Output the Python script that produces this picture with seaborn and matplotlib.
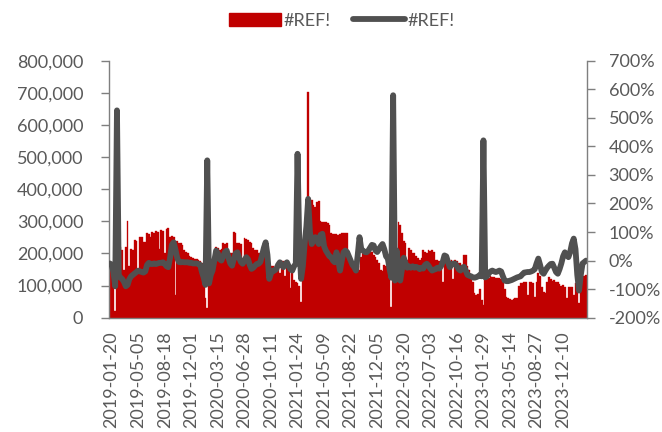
import matplotlib
matplotlib.use("Agg")
import matplotlib.pyplot as plt
import seaborn as sns
import numpy as np
from matplotlib.ticker import FuncFormatter, FixedLocator
from matplotlib.patches import Patch
from matplotlib.lines import Line2D

# ---------------- data (weekly, starting 2019-01-13) ----------------
bar_values_k = [
    171, 170, 172, 20, 200, 215, 220, 211, 150, 220,
    300, 160, 215, 211, 242, 240, 150, 252, 250, 237,
    235, 263, 260, 252, 268, 265, 270, 268, 215, 272,
    270, 200, 275, 279, 252, 255, 250, 70, 240, 232,
    232, 225, 211, 205, 201, 191, 188, 185, 183, 182,
    180, 175, 170, 108, 60, 30, 120, 170, 175, 190,
    221, 218, 211, 215, 232, 230, 232, 205, 201, 200,
    268, 265, 232, 232, 230, 170, 247, 245, 242, 235,
    232, 217, 212, 211, 201, 200, 201, 196, 190, 174,
    150, 160, 160, 155, 160, 165, 140, 175, 175, 130,
    172, 168, 92, 140, 117, 110, 108, 100, 50, 180,
    211, 220, 704, 367, 367, 350, 346, 361, 362, 300,
    299, 299, 298, 296, 290, 263, 262, 260, 260, 258,
    262, 263, 263, 263, 263, 175, 170, 172, 168, 160,
    160, 150, 190, 205, 211, 205, 200, 211, 205, 195,
    190, 180, 170, 150, 145, 165, 160, 160, 158, 34,
    150, 160, 200, 299, 290, 263, 240, 232, 180, 216,
    210, 201, 200, 191, 185, 180, 185, 211, 205, 200,
    211, 208, 210, 205, 180, 180, 178, 178, 112, 185,
    190, 180, 178, 180, 120, 180, 175, 170, 170, 165,
    195, 195, 160, 149, 120, 110, 76, 70, 75, 90,
    55, 40, 125, 128, 125, 130, 128, 128, 125, 125,
    125, 122, 110, 90, 65, 60, 58, 55, 57, 60,
    62, 100, 107, 107, 110, 110, 70, 110, 112, 108,
    65, 110, 138, 130, 97, 80, 77, 110, 128, 120,
    115, 118, 112, 110, 105, 100, 102, 97, 60, 97,
    95, 97, 70, 107, 100, 45, 128, 125, 130, 133,
]

yoy_pct = [
    -10, -15, -40, -90, 526, -50, -60, -65, -75, -90,
    -85, -65, -55, -50, -45, -40, -35, -38, -40, -42,
    -38, -15, -8, -12, -12, -10, -12, -10, -8, -8,
    -6, -12, -20, -23, 10, 55, 64, 40, 10, -5,
    -6, -5, -6, -6, -6, -8, -8, -10, -10, -10,
    -12, -15, -40, -60, -85, 351, -80, -50, -35, 0,
    35, 25, 5, 0, 15, 30, 35, 10, -10, -18,
    5, 25, 29, 10, -5, -11, 0, 12, 5, -15,
    -29, -25, -18, -12, -11, -5, 20, 45, 64, 20,
    -64, -45, -35, -35, -30, -15, -6, -15, -23, -12,
    -6, -20, -30, -35, -20, -11, 374, 50, -64, -20,
    58, 120, 216, 100, 58, 70, 82, 70, 58, 90,
    94, 50, 35, 25, 15, 12, 0, -6, 29, 0,
    -35, 0, 29, 35, 30, 15, 0, -15, -23, -35,
    20, 82, 40, 35, 30, 29, 35, 45, 55, 53,
    35, 30, 40, 50, 58, 40, 15, 7, -30, -60,
    579, -70, 35, -20, -70, -30, 10, -10, -25, -20,
    -25, -20, -25, -22, -25, -30, -25, -28, -15, -11,
    -18, -28, -35, -32, -30, -25, -28, -20, -5, 18,
    15, -5, -23, -15, -10, -11, -20, -30, -35, -25,
    -22, -35, -50, -53, -55, -59, -60, -58, -55, -50,
    -55, 421, -59, -55, -45, -38, -35, -38, -40, -38,
    -35, -38, -55, -70, -72, -72, -70, -68, -65, -62,
    -59, -57, -55, -48, -42, -41, -40, -40, -38, -35,
    -30, -10, 7, -15, -40, -46, -35, -25, -18, -12,
    -11, -25, -40, -46, -30, -10, 15, 29, 20, 12,
    30, 60, 77, 40, -50, -105, -50, -10, -5, 0,
]

tick_positions = [1, 16, 31, 46, 61, 76, 91, 106, 121, 136,
                  151, 166, 181, 196, 211, 226, 241, 256]
tick_labels = ["2019-01-20", "2019-05-05", "2019-08-18", "2019-12-01",
               "2020-03-15", "2020-06-28", "2020-10-11", "2021-01-24",
               "2021-05-09", "2021-08-22", "2021-12-05", "2022-03-20",
               "2022-07-03", "2022-10-16", "2023-01-29", "2023-05-14",
               "2023-08-27", "2023-12-10"]
legend_labels = ["#REF!", "#REF!"]

# ---------------- style ----------------
plt.rcParams["font.family"] = ["Lato", "DejaVu Sans"]
TEXT = "#595959"
BAR = "#C00000"
LINE = "#505050"
SPINE = "#7F7F7F"
LW = 4.2

fig = plt.figure(figsize=(6.62, 4.32), dpi=100)
ax = fig.add_axes([109 / 662, 1 - 317.7 / 432, 478 / 662, 257 / 432])
ax2 = ax.twinx()

idx = np.arange(len(bar_values_k))
bars = np.array(bar_values_k) * 1000.0

sns.barplot(x=idx, y=bars, native_scale=True, width=1.0, color=BAR,
            saturation=1, errorbar=None, edgecolor=BAR, linewidth=0.25, ax=ax)
sns.lineplot(x=idx, y=yoy_pct, ax=ax2, color=LINE, linewidth=LW,
             solid_capstyle="round", solid_joinstyle="round")

ax.set_xlim(-0.5, len(idx) - 0.5)
ax.set_ylim(0, 800000)
ax2.set_ylim(-200, 700)

ax.yaxis.set_major_locator(FixedLocator(np.arange(0, 800001, 100000)))
ax2.yaxis.set_major_locator(FixedLocator(np.arange(-200, 701, 100)))
ax.yaxis.set_major_formatter(FuncFormatter(lambda v, p: f"{v:,.0f}"))
ax2.yaxis.set_major_formatter(FuncFormatter(lambda v, p: f"{v:.0f}%"))

ax.set_xticks(tick_positions)
ax.set_xticklabels(tick_labels, rotation=90)

for a in (ax, ax2):
    a.set_xlabel("")
    a.set_ylabel("")
    a.set_facecolor("none")
    for s in a.spines.values():
        s.set_color(SPINE)
        s.set_linewidth(1.0)
    a.spines["top"].set_visible(False)
    a.grid(False)

ax.tick_params(axis="y", colors=SPINE, labelcolor=TEXT, labelsize=13,
               length=5.5, width=1, pad=13, direction="out")
ax2.tick_params(axis="y", colors=SPINE, labelcolor=TEXT, labelsize=13,
                length=5.5, width=1, pad=10, direction="out")
ax.tick_params(axis="x", length=0, labelcolor=TEXT, labelsize=13, pad=10)
ax.spines["right"].set_visible(False)
ax2.spines["left"].set_visible(False)
ax2.spines["bottom"].set_visible(False)

handles = [Patch(facecolor=BAR, edgecolor=BAR),
           Line2D([0], [0], color=LINE, linewidth=LW, solid_capstyle="round")]
fig.legend(handles, legend_labels, loc="upper center",
           bbox_to_anchor=(342 / 662, 1.0), ncol=2, frameon=False,
           fontsize=13, labelcolor=TEXT, handlelength=2.9, handleheight=0.7,
           handletextpad=0.15, columnspacing=1.2, borderaxespad=0.3)

fig.savefig("out.png", dpi=100)
